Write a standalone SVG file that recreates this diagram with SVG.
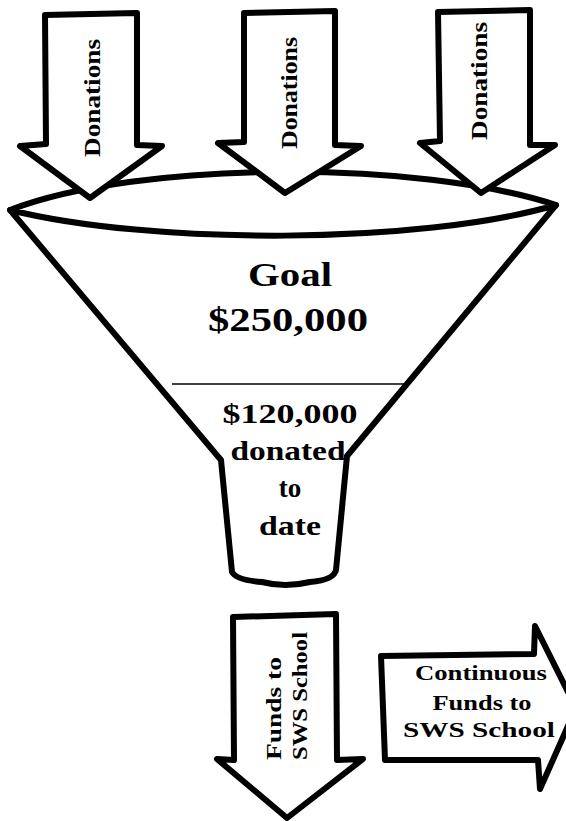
<svg xmlns="http://www.w3.org/2000/svg" width="566" height="821" viewBox="0 0 566 821">
<style>
.s{fill:#fff;stroke:#000;stroke-width:6;stroke-linejoin:round;stroke-linecap:round}
.t{font-family:"Liberation Serif",serif;font-weight:bold;fill:#000;text-anchor:middle}
.st{text-anchor:start}
</style>
<rect width="566" height="821" fill="#fff"/>
<g id="funnel">
<path class="s" d="M10,210 L221,460 L232,572 Q236,580 262,582 Q285,588 310,582 Q334,580 336,570 L347,456 L556,205 C420,245 150,245 10,210 Z"/>
<path class="s" d="M10,210 C140,160 420,160 556,205"/>
<line x1="172" y1="384" x2="408" y2="384" stroke="#000" stroke-width="1.5"/>
<text class="t" x="290" y="286" font-size="34" textLength="84" lengthAdjust="spacingAndGlyphs">Goal</text>
<text class="t" x="288" y="331" font-size="34" textLength="160" lengthAdjust="spacingAndGlyphs">$250,000</text>
<text class="t" x="290" y="423" font-size="27" textLength="135" lengthAdjust="spacingAndGlyphs">$120,000</text>
<text class="t" x="288" y="460" font-size="27" textLength="115" lengthAdjust="spacingAndGlyphs">donated</text>
<text class="t" x="290" y="497" font-size="27">to</text>
<text class="t" x="290" y="535" font-size="27" textLength="62" lengthAdjust="spacingAndGlyphs">date</text>
</g>
<g id="connectors">
<g id="donations-left">
<path class="s" d="M45,15 L137,13 L137,145 L162,146 L90,198 L20,146 L46,144 Z"/>
<text class="t" font-size="23" textLength="118" lengthAdjust="spacingAndGlyphs" transform="translate(100,98) rotate(-90)">Donations</text>
</g>
<g id="donations-middle">
<path class="s" d="M244,13 L335,11 L335,145 L361,146 L285,193 L218,143 L244,142 Z"/>
<text class="t" font-size="23" textLength="112" lengthAdjust="spacingAndGlyphs" transform="translate(297,93) rotate(-90)">Donations</text>
</g>
<g id="donations-right">
<path class="s" d="M438,12 L530,10 L530,145 L555,145 L481,193 L420,143 L440,141 Z"/>
<text class="t" font-size="23" textLength="118" lengthAdjust="spacingAndGlyphs" transform="translate(487,81) rotate(-90)">Donations</text>
</g>
<g id="funds-down">
<path class="s" d="M233,617 L336,614 L337,760 L363,759 L287,818 L217,759 L234,760 Z"/>
<text class="t st" font-size="22" textLength="103" lengthAdjust="spacingAndGlyphs" transform="translate(281,760) rotate(-90)">Funds to</text>
<text class="t st" font-size="22" textLength="128" lengthAdjust="spacingAndGlyphs" transform="translate(307,760) rotate(-90)">SWS School</text>
</g>
<g id="funds-right">
<path class="s" d="M381,656 L534,654 L535,626 L576,708 L540,789 L538,760 L385,760 Z"/>
<text class="t" font-size="22" x="481" y="680" textLength="132" lengthAdjust="spacingAndGlyphs">Continuous</text>
<text class="t" font-size="22" x="482" y="710" textLength="99" lengthAdjust="spacingAndGlyphs">Funds to</text>
<text class="t" font-size="22" x="479" y="737" textLength="152" lengthAdjust="spacingAndGlyphs">SWS School</text>
</g>
</g>
</svg>
